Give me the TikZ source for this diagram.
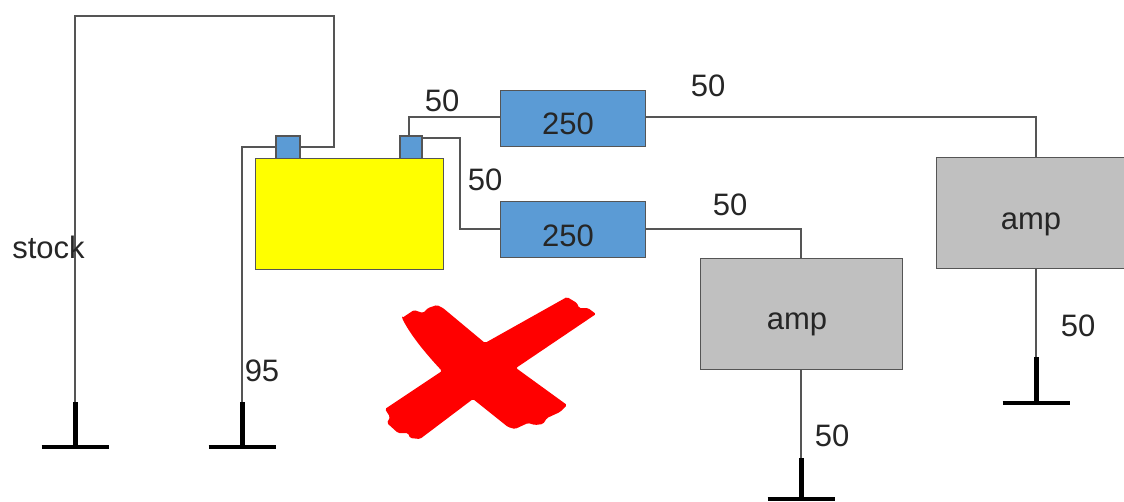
\documentclass[tikz,border=0pt]{standalone}
\usepackage{fontspec}
\setmainfont{Liberation Sans}
\definecolor{wirec}{HTML}{555555}
\definecolor{fuseb}{HTML}{5B9BD5}
\definecolor{ampg}{HTML}{C0C0C0}
\definecolor{battc}{HTML}{FFFF00}
\definecolor{crossc}{HTML}{FF0000}
\tikzset{
  wire/.style={draw=wirec,line width=1.5pt},
  boxb/.style={draw=wirec,line width=1.5pt,inner sep=0pt,anchor=north west},
  fuse/.style={boxb,fill=fuseb,minimum width=145pt,minimum height=56pt},
  amp/.style={boxb,fill=ampg,minimum width=202pt,minimum height=111pt},
  post/.style={boxb,fill=fuseb},
  lbl/.style={font=\fontsize{31}{31}\selectfont,text=black!85,inner sep=0pt},
  gndstem/.style={draw=black,line width=5pt},
  gndbar/.style={draw=black,line width=4.5pt}
}
\begin{document}
\begin{tikzpicture}[x=1pt,y=-1pt]
\useasboundingbox (0,0) rectangle (1124,501);
% battery and posts
\node[post,minimum width=24pt,minimum height=23pt] (postL) at (275,135) {};
\node[post,minimum width=22pt,minimum height=23pt] (postR) at (399,135) {};
\node[boxb,fill=battc,minimum width=188pt,minimum height=111pt] (batt) at (254.5,157.5) {};
% fuses and amps
\node[fuse] (fuse1) at (499.5,89.5) {};
\node[fuse] (fuse2) at (499.5,200.5) {};
\node[lbl] (fuset1) at (568,124) {250};
\node[lbl] (fuset2) at (568,236) {250};
\node[amp] (amp1) at (935.5,156.5) {};
\node[amp] (amp2) at (699.5,257.5) {};
\node[lbl] (ampt1) at (1031,224) {amp};
\node[lbl] (ampt2) at (797,324) {amp};
% ground symbols
\coordinate (g1) at (75,447);
\coordinate (g2) at (242,447);
\coordinate (g3) at (801,499);
\coordinate (g4) at (1036,403);
\coordinate (g1t) at (75,402);
\coordinate (g2t) at (242,402);
\coordinate (g3t) at (801,458);
\coordinate (g4t) at (1036,357);
\foreach \g in {g1,g2,g3,g4}{
  \draw[gndbar] ([xshift=-33.5pt]\g) -- ([xshift=33.5pt]\g);
}
\draw[gndstem] (g1t) -- (g1);
\draw[gndstem] (g2t) -- (g2);
\draw[gndstem] (g3t) -- (g3);
\draw[gndstem] (g4t) -- (g4);
% wires
\coordinate (c1) at (334,147);
\coordinate (c2) at (334,16);
\coordinate (c3) at (75,16);
\draw[wire] (postL.east |- c1) -- (c1) -- (c2) -- (c3) -- (g1t);
\coordinate (c4) at (242,147);
\draw[wire] (postL.west |- c4) -- (c4) -- (g2t);
\coordinate (c5) at (409,117);
\draw[wire] (c5 |- postR.north) -- (c5) -- (c5 -| fuse1.west);
\coordinate (c6) at (460,138);
\coordinate (c7) at (460,229);
\draw[wire] (postR.east |- c6) -- (c6) -- (c7) -- (c7 -| fuse2.west);
\coordinate (c8) at (1036,117);
\draw[wire] (c8 -| fuse1.east) -- (c8) -- (c8 |- amp1.north);
\coordinate (c9) at (801,229);
\draw[wire] (c9 -| fuse2.east) -- (c9) -- (c9 |- amp2.north);
\draw[wire] (g4t |- amp1.south) -- (g4t);
\draw[wire] (g3t |- amp2.south) -- (g3t);
% labels
\node[lbl] (t1) at (442,101) {50};
\node[lbl] (t2) at (485,180) {50};
\node[lbl] (t3) at (708,86) {50};
\node[lbl] (t4) at (730,205) {50};
\node[lbl] (t5) at (1078,326) {50};
\node[lbl] (t6) at (832,436) {50};
\node[lbl] (t7) at (262,371) {95};
\node[lbl] (t8) at (48.5,247) {stock};
% red cross
\fill[crossc,rounded corners=1.5pt] (402,318) -- (414,310) -- (423,313) -- (428,308) -- (437,305) -- (443,308) -- (485,343)
  -- (567,297) -- (577,303) -- (579,308) -- (588,308) -- (596,314) -- (516,368)
  -- (567,405) -- (560,412) -- (547,418) -- (543,424) -- (535,425) -- (528,423)
  -- (515,429) -- (508,427) -- (473,399) -- (420,439) -- (410,438) -- (408,433)
  -- (398,433) -- (387,423) -- (390,417) -- (385,409) -- (442,371)
  .. controls (430,358) and (412,338) .. cycle;
\end{tikzpicture}
\end{document}
